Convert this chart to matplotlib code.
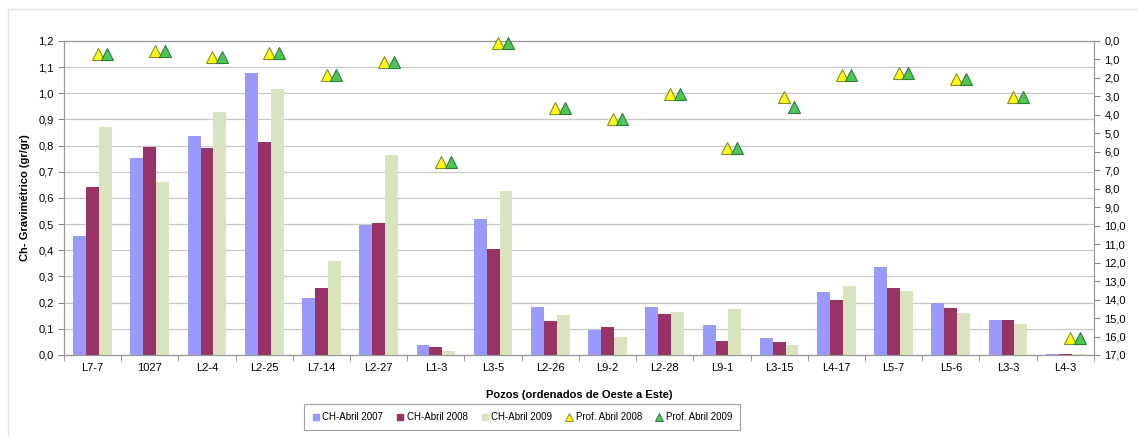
import numpy as np
import matplotlib.pyplot as plt
from matplotlib.ticker import FuncFormatter, FixedLocator
from matplotlib.lines import Line2D

plt.rcParams['font.family'] = ['Liberation Sans', 'DejaVu Sans']

pozos = ['L7-7', '1027', 'L2-4', 'L2-25', 'L7-14', 'L2-27', 'L1-3', 'L3-5', 'L2-26',
         'L9-2', 'L2-28', 'L9-1', 'L3-15', 'L4-17', 'L5-7', 'L5-6', 'L3-3', 'L4-3']

ch_2007 = [0.453, 0.751, 0.837, 1.079, 0.217, 0.495, 0.039, 0.521, 0.182,
           0.096, 0.182, 0.114, 0.065, 0.242, 0.337, 0.197, 0.132, 0.005]
ch_2008 = [0.642, 0.796, 0.792, 0.815, 0.257, 0.505, 0.029, 0.404, 0.130,
           0.106, 0.157, 0.055, 0.051, 0.211, 0.257, 0.179, 0.132, 0.005]
ch_2009 = [0.870, 0.662, 0.928, 1.016, 0.361, 0.764, 0.017, 0.625, 0.154,
           0.068, 0.166, 0.177, 0.037, 0.262, 0.243, 0.162, 0.120, 0.004]

prof_2008 = [0.70, 0.54, 0.85, 0.63, 1.84, 1.16, 6.53, 0.13, 3.61,
             4.20, 2.87, 5.80, 3.05, 1.86, 1.75, 2.04, 3.01, 16.10]
prof_2009 = [0.70, 0.54, 0.85, 0.63, 1.84, 1.16, 6.53, 0.13, 3.61,
             4.20, 2.87, 5.80, 3.59, 1.86, 1.75, 2.04, 3.01, 16.10]

c07, c08, c09 = '#9999FF', '#993366', '#D7E4BD'
amarillo, verde = '#FFFF00', '#4CC85A'

fig = plt.figure(figsize=(11.38, 4.36), dpi=100)
ax = fig.add_axes([0.0562, 0.1858, 0.905, 0.7202])

x = np.arange(len(pozos))
w = 0.225
ax.bar(x - w, ch_2007, w, color=c07, zorder=3)
ax.bar(x, ch_2008, w, color=c08, zorder=3)
ax.bar(x + w, ch_2009, w, color=c09, zorder=3)

ax.set_xlim(-0.5, len(pozos) - 0.5)
ax.set_ylim(0, 1.2)
ax.set_yticks(np.arange(0, 1.21, 0.1))
coma = FuncFormatter(lambda v, p: f'{v:.1f}'.replace('.', ','))
ax.yaxis.set_major_formatter(coma)
ax.grid(axis='y', color='#C8C8C8', lw=0.9, zorder=0)

ax.set_xticks(x)
ax.set_xticklabels(pozos, fontsize=8)
ax.tick_params(axis='x', which='major', length=0, pad=6)
ax.xaxis.set_minor_locator(FixedLocator(np.arange(-0.5, len(pozos), 1)))
ax.tick_params(axis='x', which='minor', length=4, color='#888888', direction='out')
ax.tick_params(axis='y', labelsize=8, length=4, color='#888888')

for s in ['left', 'right', 'bottom', 'top']:
    ax.spines[s].set_color('#999999')
ax.spines['bottom'].set_color('#888888')

ax.set_xlabel('Pozos (ordenados de Oeste a Este)', fontsize=8, fontweight='bold', labelpad=12)
ax.set_ylabel('Ch- Gravimétrico (gr/gr)', fontsize=8, fontweight='bold', labelpad=6)

# profundidades en eje secundario invertido
ax2 = ax.twinx()
ax2.set_ylim(17, 0)
ax2.set_yticks(np.arange(0, 17.1, 1))
ax2.yaxis.set_major_formatter(coma)
ax2.tick_params(axis='y', labelsize=8, length=4, color='#888888')
for s in ['left', 'right', 'bottom', 'top']:
    ax2.spines[s].set_color('#999999')
ax2.plot(x + 0.09, prof_2008, ls='none', marker='^', ms=8, mfc=amarillo,
         mec='#8A8A30', mew=0.8, zorder=4, clip_on=False)
ax2.plot(x + 0.26, prof_2009, ls='none', marker='^', ms=8, mfc=verde,
         mec='#2E7D3A', mew=0.8, zorder=4, clip_on=False)

handles = [
    Line2D([], [], ls='none', marker='s', ms=4, mfc=c07, mec=c07),
    Line2D([], [], ls='none', marker='s', ms=4, mfc=c08, mec=c08),
    Line2D([], [], ls='none', marker='s', ms=4, mfc=c09, mec=c09),
    Line2D([], [], ls='none', marker='^', ms=6, mfc=amarillo, mec='#8A8A30', mew=0.7),
    Line2D([], [], ls='none', marker='^', ms=6, mfc=verde, mec='#2E7D3A', mew=0.7),
]
labels = ['CH-Abril 2007', 'CH-Abril 2008', 'CH-Abril 2009', 'Prof. Abril 2008', 'Prof. Abril 2009']
leg = fig.legend(handles, labels, loc='center', mode='expand',
                 bbox_to_anchor=(304 / 1138, 5 / 436, 436 / 1138, 28 / 436), ncol=5,
                 fontsize=7, frameon=True, fancybox=False, handlelength=0.8,
                 handletextpad=0.3, borderpad=0.8, borderaxespad=0)
leg.get_frame().set_edgecolor('#888888')
leg.get_frame().set_linewidth(0.8)

# borde tenue del area del grafico
fig.add_artist(Line2D([8 / 1138, 1], [1 - 9 / 436, 1 - 9 / 436], color='#E2E2E2', lw=1))
fig.add_artist(Line2D([8 / 1138, 8 / 1138], [0, 1 - 9 / 436], color='#E2E2E2', lw=1))

fig.savefig('out.png', dpi=100)
